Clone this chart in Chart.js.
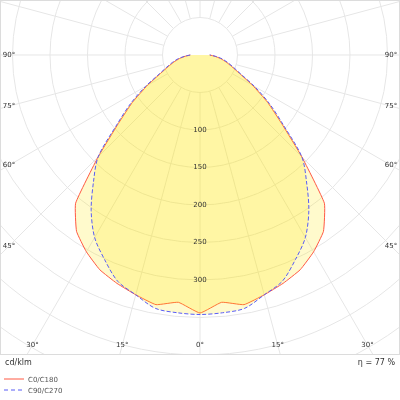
<!DOCTYPE html>
<html>
<head>
<meta charset="utf-8">
<script src="https://cdn.jsdelivr.net/npm/chart.js@4.4.1/dist/chart.umd.min.js"></script>
<style>
  html, body { margin: 0; padding: 0; background: #fff; }
  #wrap { position: relative; width: 400px; height: 400px; }
</style>
</head>
<body>
<div id="wrap"><canvas id="ldcChart"></canvas></div>
<script>
// gamma angles (deg from nadir) and intensities in cd/klm
const gammaDeg = [0, 5, 10, 15, 20, 25, 30, 35, 40, 45, 50, 55, 60, 65, 70, 75, 80, 85, 90];
const c0c180  = [344, 331, 338, 331, 324, 316, 303, 287, 258, 192, 142, 110, 81, 58, 45, 36, 28, 20, 13];
const c90c270 = [346, 345, 343, 331, 321, 301, 281, 253, 221, 192, 145, 113, 84, 60, 47, 38, 30, 21, 13];

const seriesNames = ['C0/C180', 'C90/C270'];
const ringValues = [50, 100, 150, 200, 250, 300, 350, 400, 450, 500];
const radialTicks = [100, 150, 200, 250, 300];
const angleTicks = [0, 15, 30, 45, 60, 75, 90];
const unitLabel = 'cd/klm';
const effLabel = 'η = 77 %';

// left half goes 90 -> 0, right half 0 -> 90, closed curve through the centre
function toCurve(vals) {
    const pts = [];
    for (let i = gammaDeg.length - 1; i >= 0; i--) {
        const t = gammaDeg[i] * Math.PI / 180;
        pts.push({ x: -vals[i] * Math.sin(t), y: -vals[i] * Math.cos(t) });
    }
    for (let i = 1; i < gammaDeg.length; i++) {
        const t = gammaDeg[i] * Math.PI / 180;
        pts.push({ x: vals[i] * Math.sin(t), y: -vals[i] * Math.cos(t) });
    }
    return pts;
}

const RED = 'rgb(255, 88, 66)';
const BLUE = 'rgb(88, 92, 245)';
const FONT = "'DejaVu Sans', sans-serif";

const polarGrid = {
    id: 'polarGrid',
    beforeDatasetsDraw(chart) {
        const { ctx, chartArea: a, scales: { x, y } } = chart;
        const cx = x.getPixelForValue(0), cy = y.getPixelForValue(0);
        const k = x.getPixelForValue(1) - cx;
        ctx.save();
        ctx.beginPath();
        ctx.rect(a.left, a.top, a.right - a.left, a.bottom - a.top);
        ctx.clip();
        ctx.strokeStyle = '#e6e6e6';
        ctx.lineWidth = 1;
        ringValues.forEach(v => {
            ctx.beginPath();
            ctx.arc(cx, cy, v * k, 0, Math.PI * 2);
            ctx.stroke();
        });
        const r0 = ringValues[0] * k, r1 = ringValues[ringValues.length - 1] * k;
        for (let g = 0; g < 360; g += 15) {
            const t = g * Math.PI / 180;
            ctx.beginPath();
            ctx.moveTo(cx + r0 * Math.sin(t), cy + r0 * Math.cos(t));
            ctx.lineTo(cx + r1 * Math.sin(t), cy + r1 * Math.cos(t));
            ctx.stroke();
        }
        ctx.restore();
    },
    afterDraw(chart) {
        const { ctx, chartArea: a, scales: { x, y } } = chart;
        const cx = x.getPixelForValue(0), cy = y.getPixelForValue(0);
        const k = x.getPixelForValue(1) - cx;
        ctx.save();
        ctx.strokeStyle = '#dcdcdc';
        ctx.lineWidth = 1;
        ctx.strokeRect(a.left + 0.5, a.top + 0.5, a.right - a.left - 1, a.bottom - a.top);

        ctx.fillStyle = '#333';
        ctx.font = '7px ' + FONT;
        ctx.textAlign = 'center';
        ctx.textBaseline = 'middle';
        radialTicks.forEach(v => ctx.fillText(String(v), cx, cy + v * k));

        // angle labels sit where each ray meets the inner frame
        const xMax = a.right - 9, yMax = a.bottom - 9;
        angleTicks.forEach(g => {
            const t = g * Math.PI / 180, s = Math.sin(t), c = Math.cos(t);
            let d = Infinity;
            if (s > 1e-6) d = Math.min(d, (xMax - cx) / s);
            if (c > 1e-6) d = Math.min(d, (yMax - cy) / c);
            const px = d * s, py = cy + d * c;
            ctx.fillText(g + '°', cx + px, py);
            if (g !== 0) ctx.fillText(g + '°', cx - px, py);
        });

        ctx.font = '8px ' + FONT;
        ctx.textAlign = 'left';
        ctx.fillText(unitLabel, 5, 363);
        ctx.textAlign = 'right';
        ctx.fillText(effLabel, 395, 363);

        ctx.font = '7px ' + FONT;
        ctx.textAlign = 'left';
        ctx.fillStyle = '#555';
        [RED, BLUE].forEach((col, i) => {
            const ly = 379 + i * 11;
            ctx.strokeStyle = col;
            ctx.setLineDash(i ? [4, 3] : []);
            ctx.beginPath();
            ctx.moveTo(4, ly);
            ctx.lineTo(24, ly);
            ctx.stroke();
            ctx.fillText(seriesNames[i], 28, ly + 1);
        });
        ctx.restore();
    }
};

const ctx = document.getElementById('ldcChart').getContext('2d');
const ldcChart = new Chart(ctx, {
    type: 'line',
    data: {
        datasets: [
            {
                label: seriesNames[0],
                data: toCurve(c0c180),
                borderColor: RED,
                borderWidth: 1,
                backgroundColor: 'rgba(255, 232, 0, 0.2)',
                fill: 'shape',
                tension: 0.12,
                order: 1
            },
            {
                label: seriesNames[1],
                data: toCurve(c90c270),
                borderColor: BLUE,
                borderWidth: 1,
                borderDash: [4, 2],
                backgroundColor: 'rgba(255, 232, 0, 0.2)',
                fill: 'shape',
                tension: 0.3,
                order: 0
            }
        ]
    },
    options: {
        responsive: true,
        maintainAspectRatio: false,
        animation: false,
        layout: { padding: { bottom: 46 } },
        elements: { point: { radius: 0 } },
        plugins: { legend: { display: false }, tooltip: { enabled: false } },
        scales: {
            x: { type: 'linear', display: false, min: -266.67, max: 266.67 },
            y: { type: 'linear', display: false, min: -398.67, max: 73.33 }
        }
    },
    plugins: [polarGrid]
});
</script>
</body>
</html>
